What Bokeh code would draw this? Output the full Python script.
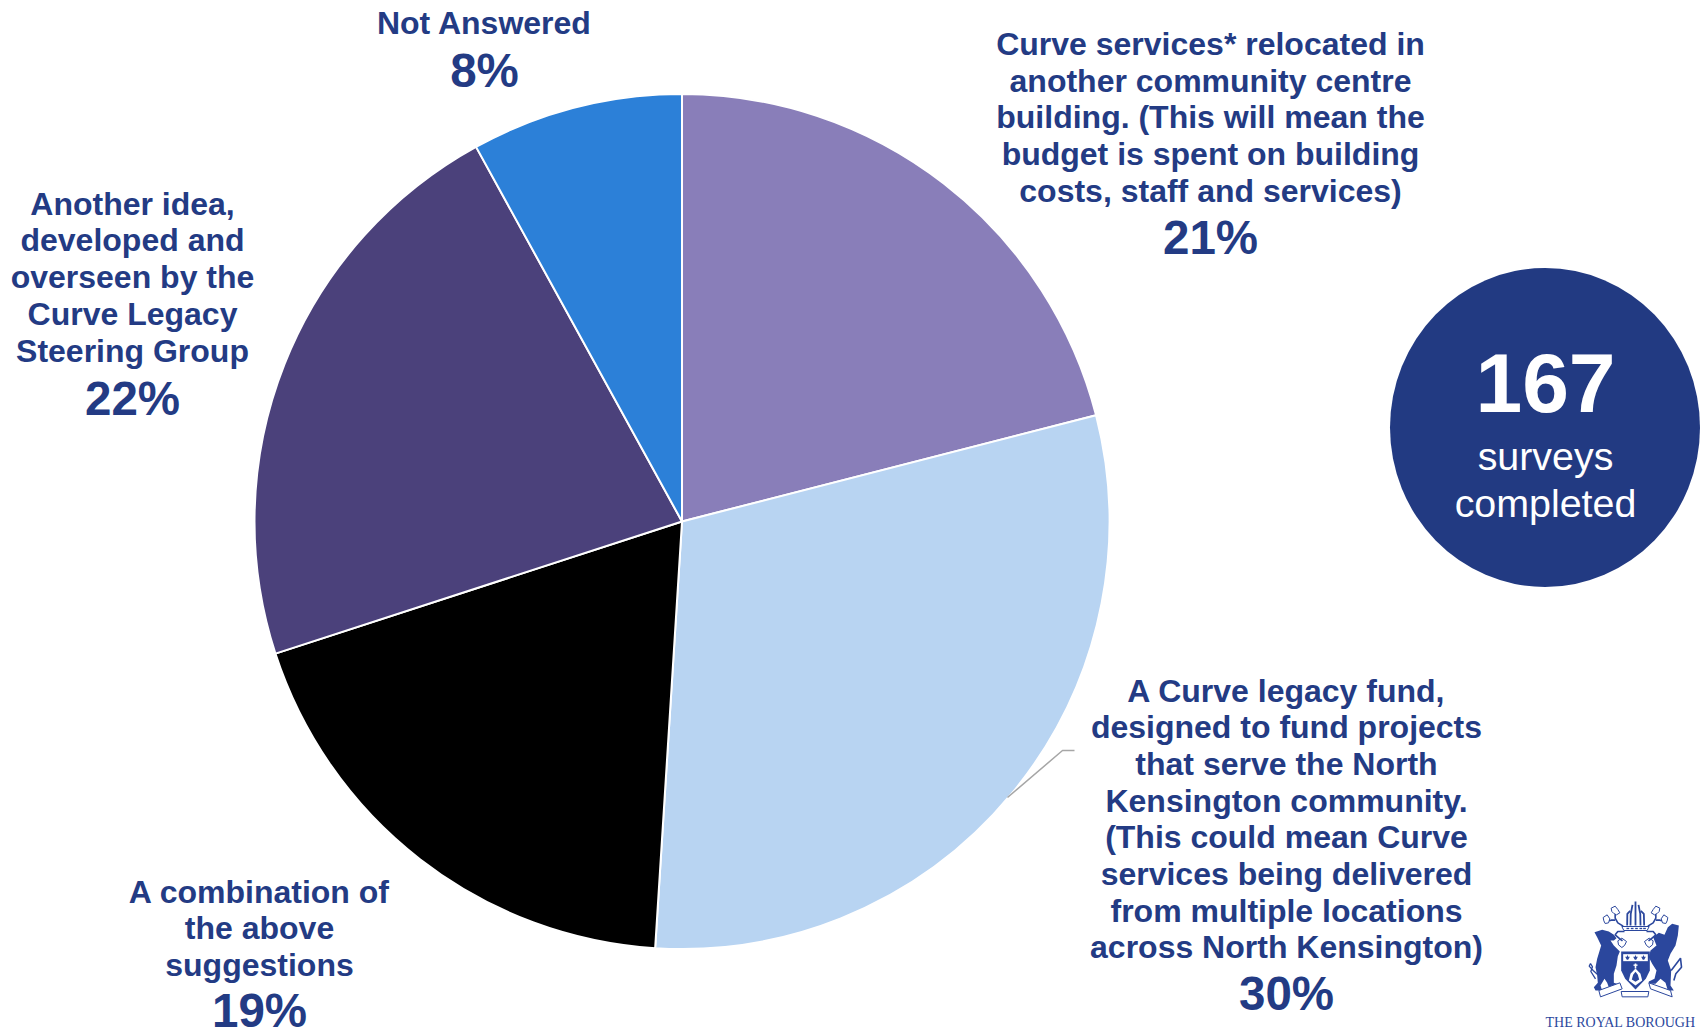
from math import pi

import numpy as np
from bokeh.core.properties import value
from bokeh.embed import file_html
from bokeh.plotting import figure
from bokeh.resources import INLINE

WIDTH, HEIGHT = 1702, 1031
INK = "#233B84"
CREST = "#2B479D"

# Survey results, clockwise from twelve o'clock
shares = [21, 30, 19, 22, 8]
slice_colors = ["#897EB9", "#B8D4F2", "#000000", "#4B417B", "#2C80D8"]
slice_labels = [
    ["Curve services* relocated in", "another community centre",
     "building. (This will mean the", "budget is spent on building",
     "costs, staff and services)"],
    ["A Curve legacy fund,", "designed to fund projects",
     "that serve the North", "Kensington community.",
     "(This could mean Curve", "services being delivered",
     "from multiple locations", "across North Kensington)"],
    ["A combination of", "the above", "suggestions"],
    ["Another idea,", "developed and", "overseen by the",
     "Curve Legacy", "Steering Group"],
    ["Not Answered"],
]
survey_count = "167"
survey_caption = ["surveys", "completed"]
crest_caption = "THE ROYAL BOROUGH"

# Label block placement: centre x and the y centre of the first line
label_x = [1210, 1286, 259, 132, 484]
label_top = [43.5, 690, 891, 203, 22.5]
line_step = [36.7, 36.7, 36.7, 36.8, 0]
percent_y = [236.5, 993, 1010, 397.5, 69.5]


def py(y):
    """Convert a y measured from the top of the page to plot units."""
    return HEIGHT - np.asarray(y, dtype=float)


p = figure(width=WIDTH, height=HEIGHT, x_range=(0, WIDTH), y_range=(0, HEIGHT),
           output_backend="svg", toolbar_location=None, min_border=0,
           outline_line_color=None, background_fill_color="white",
           border_fill_color="white")
p.axis.visible = False
p.grid.visible = False

# Pie slices
cx, cy, radius = 681.5, py(521), 427.5
edges = np.cumsum([0] + shares) / sum(shares) * 2 * pi
p.wedge(x=[cx] * len(shares), y=[cy] * len(shares), radius=radius,
        start_angle=list(pi / 2 - edges[1:]), end_angle=list(pi / 2 - edges[:-1]),
        fill_color=slice_colors, line_color="white", line_width=2)

# Leader from the legacy-fund slice to its label
p.line([1007, 1062, 1074], py([797, 750, 750]), line_color="#A6A6A6", line_width=1.5)


def put(x, y, text, size, style="bold", color=INK, font="Liberation Sans", align="center"):
    p.text(x=[x], y=[py(y)], text=[text], text_font=value(font),
           text_font_size=f"{size}px", text_font_style=style, text_color=color,
           text_align=align, text_baseline="middle")


# Slice captions and percentages
for i, lines in enumerate(slice_labels):
    for j, line in enumerate(lines):
        put(label_x[i], label_top[i] + j * line_step[i], line, 32)
    put(label_x[i], percent_y[i], f"{shares[i]}%", 47.5)

# Survey count badge
p.ellipse(x=[1544.5], y=[py(427)], width=310, height=319, fill_color="#223A82", line_color=None)
put(1545, 382, survey_count, 84, color="white")
put(1545, 455.5, survey_caption[0], 39.4, style="normal", color="white")
put(1545, 502.5, survey_caption[1], 39.4, style="normal", color="white")


# Crest, outlined on a small local grid and scaled down to its corner of the page
def cxs(xs):
    return [1580 + v / 3 for v in xs]


def cys(ys):
    return list(py([895 + v / 3 for v in ys]))


def shape(xs, ys, fill=CREST, edge=None):
    p.patch(cxs(xs), cys(ys), fill_color=fill, line_color=edge, line_width=1)


def stroke(xs, ys, width=1.3, color=CREST):
    p.line(cxs(xs), cys(ys), line_color=color, line_width=width)


def mirrored(xs):
    return [330 - v for v in xs]


# Lion
shape([42, 65, 85, 100, 108, 100, 90, 100, 118, 112, 108, 100, 100, 118, 115, 85, 80, 72, 60, 65, 45, 40, 52, 50, 45, 50, 62, 50],
      [110, 103, 108, 118, 128, 135, 135, 150, 168, 182, 210, 235, 262, 268, 278, 275, 262, 250, 270, 285, 285, 275, 262, 240, 215, 190, 150, 125])
stroke([52, 38, 26, 30, 36, 31, 45], [238, 225, 212, 204, 214, 228, 250])

# Griffin with raised wing
shape([295, 292, 285, 270, 262, 272, 270, 280, 262, 255, 240, 225, 205, 205, 222, 228, 215, 205, 210, 228, 218, 235, 252, 262, 275],
      [90, 120, 150, 175, 195, 225, 270, 285, 285, 262, 250, 265, 265, 258, 250, 225, 205, 185, 165, 150, 125, 112, 118, 95, 85])
stroke([272, 300, 303, 286, 280], [225, 188, 215, 235, 255], 1.6)

# Shield with a starred chief and a domed charge
shape([122, 208, 208, 196, 165, 134, 122], [168, 168, 225, 250, 282, 250, 225])
shape([128, 202, 202, 128], [176, 176, 197, 197], fill="white")
for star_x in (141, 165, 189):
    shape([star_x - 7, star_x - 2, star_x, star_x + 2, star_x + 7, star_x + 2, star_x - 2],
          [184, 184, 178, 184, 184, 193, 193])
shape([145, 150, 165, 180, 185, 165], [255, 235, 219, 235, 255, 270], fill="white")
shape([154, 158, 165, 172, 176, 165], [252, 238, 229, 238, 252, 259])
stroke([165, 165], [204, 219], 1.6, "white")
stroke([159, 171], [209, 209], 1.4, "white")

# Crown and plumes
shape([124, 206, 200, 130], [93, 93, 105, 105], fill="white", edge=CREST)
for dot_x in (142, 155, 168, 181, 192):
    shape([dot_x - 4, dot_x + 4, dot_x + 4, dot_x - 4], [97, 97, 101, 101])
for top_x, bottom_x, top_y in [(165, 165, 18), (156, 150, 28), (174, 180, 28), (149, 140, 46), (181, 191, 46)]:
    stroke([bottom_x, (top_x + bottom_x) / 2 + (top_x - 165) * 0.25, top_x], [90, 55, top_y], 1.8)

# Branches and leaves, drawn once for each side
leaf_x = [92, 104, 112, 118, 108, 100, 94]
leaf_y = [38, 32, 42, 52, 58, 54, 48]
side_leaf_x = [68, 80, 88, 84, 74, 70]
side_leaf_y = [66, 58, 70, 82, 84, 76]
low_leaf_x = [112, 124, 138, 132, 124, 114]
low_leaf_y = [136, 128, 138, 150, 156, 148]
for flip in (lambda v: v, mirrored):
    shape(flip(leaf_x), leaf_y, fill="white", edge=CREST)
    shape(flip(side_leaf_x), side_leaf_y, fill="white", edge=CREST)
    shape(flip(low_leaf_x), low_leaf_y, fill="white", edge=CREST)
    stroke(flip([128, 112, 104, 104]), [92, 82, 68, 56], 1.6)
    stroke(flip([104, 92, 86]), [74, 74, 76], 1.6)
    stroke(flip([132, 112, 104, 118, 126]), [108, 108, 118, 130, 136], 1.6)

# Motto scroll
shape([55, 118, 125, 60], [285, 262, 280, 304], fill="white", edge=CREST)
shape([205, 270, 275, 210], [262, 285, 304, 280], fill="white", edge=CREST)
shape([122, 205, 202, 125], [288, 288, 304, 304], fill="white", edge=CREST)

put(1545, 1022, crest_caption, 14, style="normal", color=CREST,
    font="Liberation Serif", align="left")

open("out.html", "w").write(file_html(p, INLINE))
